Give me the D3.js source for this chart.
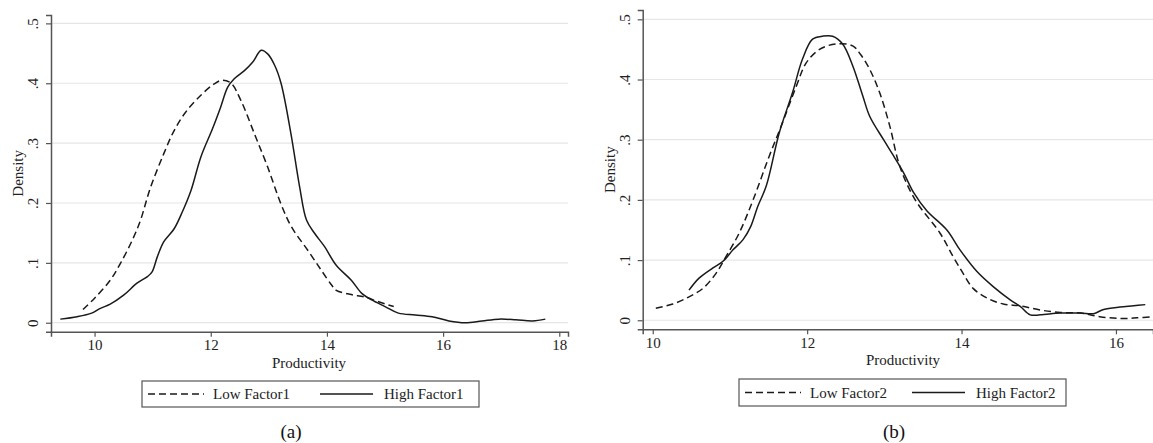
<!DOCTYPE html>
<html>
<head>
<meta charset="utf-8">
<title>Productivity density</title>
<script src="https://d3js.org/d3.v7.min.js"></script>
<style>
  body { margin: 0; background: #fff; }
  svg { display: block; }
  svg text { font-family: "Liberation Serif", "Times New Roman", "DejaVu Serif", serif; }
</style>
</head>
<body>
<svg id="viz" width="1153" height="443"></svg>
<script>
// ---- data ----
const yTicks = [0, 0.1, 0.2, 0.3, 0.4, 0.5]
const yTickLabels = ["0", ".1", ".2", ".3", ".4", ".5"]
const xTicksA = [10, 12, 14, 16, 18]
const xTicksB = [10, 12, 14, 16]

const lowFactor1 = [
  [9.8, 0.022], [10.0, 0.041], [10.27, 0.071], [10.45, 0.10], [10.65, 0.138],
  [10.79, 0.171], [10.96, 0.225], [11.19, 0.282], [11.37, 0.321], [11.57, 0.352],
  [11.83, 0.380], [12.06, 0.399], [12.2, 0.405], [12.35, 0.40], [12.52, 0.371],
  [12.75, 0.316], [12.98, 0.26], [13.21, 0.198], [13.39, 0.16], [13.67, 0.121],
  [13.9, 0.088], [14.08, 0.063], [14.16, 0.054], [14.42, 0.047], [14.65, 0.043],
  [14.89, 0.035], [15.15, 0.027]
]
const highFactor1 = [
  [9.41, 0.006], [9.7, 0.01], [9.95, 0.016], [10.1, 0.024], [10.27, 0.031],
  [10.5, 0.046], [10.73, 0.066], [10.91, 0.077], [10.99, 0.085], [11.08, 0.11],
  [11.19, 0.135], [11.37, 0.157], [11.51, 0.185], [11.66, 0.221], [11.83, 0.277],
  [12.03, 0.324], [12.17, 0.36], [12.29, 0.393], [12.4, 0.407], [12.58, 0.421],
  [12.72, 0.435], [12.87, 0.455], [12.98, 0.449], [13.1, 0.43], [13.21, 0.40],
  [13.38, 0.316], [13.53, 0.227], [13.65, 0.171], [13.79, 0.149], [13.96, 0.127],
  [14.16, 0.096], [14.42, 0.071], [14.6, 0.049], [14.77, 0.038], [15.0, 0.027],
  [15.23, 0.016], [15.52, 0.013], [15.81, 0.01], [16.1, 0.003], [16.38, 0.0],
  [16.67, 0.003], [16.96, 0.006], [17.25, 0.005], [17.54, 0.003], [17.76, 0.006]
]
const lowFactor2 = [
  [10.04, 0.02], [10.26, 0.027], [10.47, 0.039], [10.65, 0.053], [10.82, 0.078],
  [10.95, 0.106], [11.12, 0.145], [11.3, 0.2], [11.51, 0.273], [11.68, 0.328],
  [11.86, 0.389], [11.99, 0.428], [12.16, 0.45], [12.37, 0.459], [12.59, 0.456],
  [12.69, 0.442], [12.81, 0.417], [12.94, 0.378], [13.07, 0.323], [13.2, 0.256],
  [13.4, 0.2], [13.72, 0.145], [13.89, 0.106], [14.02, 0.078], [14.15, 0.053],
  [14.33, 0.037], [14.54, 0.027], [14.76, 0.024], [15.02, 0.017], [15.28, 0.013],
  [15.54, 0.012], [15.79, 0.006], [16.05, 0.003], [16.27, 0.004], [16.48, 0.006]
]
const highFactor2 = [
  [10.47, 0.05], [10.6, 0.07], [10.78, 0.087], [10.91, 0.098], [11.04, 0.117],
  [11.17, 0.134], [11.27, 0.156], [11.36, 0.189], [11.47, 0.223], [11.64, 0.312],
  [11.81, 0.378], [11.94, 0.434], [12.07, 0.467], [12.2, 0.472], [12.33, 0.472],
  [12.46, 0.459], [12.59, 0.423], [12.72, 0.373], [12.81, 0.339], [12.99, 0.3],
  [13.12, 0.273], [13.25, 0.245], [13.38, 0.212], [13.55, 0.182], [13.81, 0.15],
  [13.98, 0.117], [14.2, 0.081], [14.41, 0.056], [14.63, 0.034], [14.76, 0.023],
  [14.89, 0.009], [15.02, 0.009], [15.28, 0.012], [15.54, 0.012], [15.71, 0.011],
  [15.84, 0.018], [16.05, 0.022], [16.23, 0.024], [16.38, 0.026]
]

const svg = d3.select("#viz")
const serif = "Liberation Serif, Times New Roman, serif"

function drawPanel(p) {
  const x = d3.scaleLinear().domain(p.xDomain).range([p.left, p.right])
  const y = d3.scaleLinear().domain([-0.015, p.yTop]).range([p.bottom, p.top])
  const g = svg.append("g")

  // horizontal gridlines
  g.selectAll("line.grid").data(yTicks).enter().append("line")
    .attr("x1", p.left).attr("x2", p.right)
    .attr("y1", d => y(d)).attr("y2", d => y(d))
    .attr("stroke", "#e6e6e6").attr("stroke-width", 1.2)

  // y axis
  const yAxis = g.append("g").attr("transform", `translate(${p.left},0)`)
    .call(d3.axisLeft(y).tickValues(yTicks).tickSize(5).tickFormat((d, i) => yTickLabels[i]))
  yAxis.attr("font-family", serif)
  yAxis.select(".domain").attr("stroke", "#555").attr("stroke-width", 1.5)
  yAxis.selectAll(".tick line").attr("stroke", "#555").attr("stroke-width", 1.2)
  yAxis.selectAll(".tick text")
    .attr("font-size", 15).attr("fill", "#222")
    .attr("transform", "rotate(-90)")
    .attr("x", 0).attr("y", -13).attr("dy", 0)
    .attr("text-anchor", "middle")

  // x axis
  const xAxis = g.append("g").attr("transform", `translate(0,${p.bottom})`)
    .call(d3.axisBottom(x).tickValues(p.xTicks).tickSize(5).tickFormat(d3.format("d")))
  xAxis.attr("font-family", serif)
  xAxis.select(".domain").attr("stroke", "#555").attr("stroke-width", 1.5)
  xAxis.selectAll(".tick line").attr("stroke", "#555").attr("stroke-width", 1.2)
  xAxis.selectAll(".tick text")
    .attr("font-size", 15).attr("fill", "#222")
    .attr("y", 8)

  // axis titles
  g.append("text").text("Density")
    .attr("transform", `translate(${p.left - 28},${(p.top + p.bottom) / 2}) rotate(-90)`)
    .attr("text-anchor", "middle").attr("font-size", 15).attr("font-family", serif).attr("fill", "#222")
  g.append("text").text("Productivity")
    .attr("x", p.titleX).attr("y", p.bottom + 36)
    .attr("text-anchor", "middle").attr("font-size", 15).attr("font-family", serif).attr("fill", "#222")

  // density curves
  const line = d3.line().x(d => x(d[0])).y(d => y(d[1])).curve(d3.curveCatmullRom)
  g.append("path").datum(p.low).attr("d", line)
    .attr("fill", "none").attr("stroke", "#1a1a1a").attr("stroke-width", 1.5)
    .attr("stroke-dasharray", "7,4")
  g.append("path").datum(p.high).attr("d", line)
    .attr("fill", "none").attr("stroke", "#1a1a1a").attr("stroke-width", 1.5)

  // legend
  const lg = p.legend
  g.append("rect").attr("x", lg.x).attr("y", lg.y).attr("width", lg.w).attr("height", lg.h)
    .attr("fill", "#fff").attr("stroke", "#555").attr("stroke-width", 1.2)
  const cy = lg.y + lg.h / 2
  g.append("line").attr("x1", lg.x + 6).attr("x2", lg.x + 62).attr("y1", cy).attr("y2", cy)
    .attr("stroke", "#1a1a1a").attr("stroke-width", 1.5).attr("stroke-dasharray", "7,4")
  g.append("text").text(p.lowName).attr("x", lg.x + 71).attr("y", cy).attr("dy", "0.35em")
    .attr("font-size", 15).attr("font-family", serif).attr("fill", "#222")
  g.append("line").attr("x1", lg.x2).attr("x2", lg.x2 + 53).attr("y1", cy).attr("y2", cy)
    .attr("stroke", "#1a1a1a").attr("stroke-width", 1.5)
  g.append("text").text(p.highName).attr("x", lg.x2 + 64).attr("y", cy).attr("dy", "0.35em")
    .attr("font-size", 15).attr("font-family", serif).attr("fill", "#222")

  // panel caption
  g.append("text").text(p.caption).attr("x", p.captionX).attr("y", 438)
    .attr("text-anchor", "middle").attr("font-size", 19).attr("font-family", serif).attr("fill", "#111")
}

drawPanel({
  left: 51, right: 568, top: 15, bottom: 331.7, yTop: 0.514,
  xDomain: [9.25, 18.15], xTicks: xTicksA,
  low: lowFactor1, high: highFactor1,
  lowName: "Low Factor1", highName: "High Factor1",
  titleX: 309,
  legend: { x: 142, y: 381, w: 337, h: 26, x2: 320 },
  caption: "(a)", captionX: 291
})

drawPanel({
  left: 642.7, right: 1153, top: 10, bottom: 329.3, yTop: 0.5155,
  xDomain: [9.87, 16.48], xTicks: xTicksB,
  low: lowFactor2, high: highFactor2,
  lowName: "Low Factor2", highName: "High Factor2",
  titleX: 903,
  legend: { x: 739, y: 379, w: 327, h: 27, x2: 912 },
  caption: "(b)", captionX: 894
})
</script>
</body>
</html>
